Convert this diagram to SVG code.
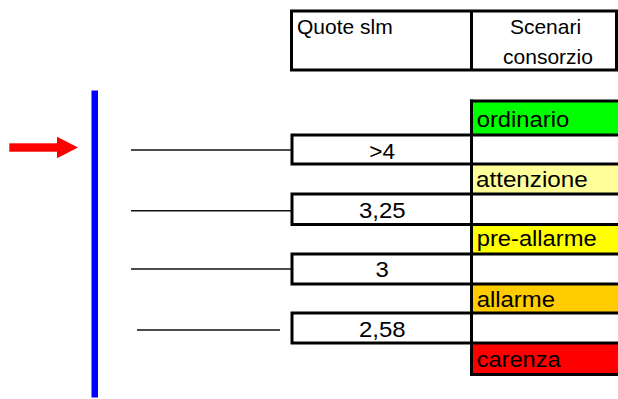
<svg xmlns="http://www.w3.org/2000/svg" width="618" height="399" viewBox="0 0 618 399">
<style>
  .t { font-family: "Liberation Sans", Arial, sans-serif; fill: #000; }
  .h { font-size: 21px; }
  .c { font-size: 21.5px; }
  .b { fill: none; stroke: #000; stroke-width: 3; }
  .conn { stroke: #111; stroke-width: 1.6; }
</style>
<rect width="618" height="399" fill="#fff"/>

<g id="header">
  <rect class="b" x="291.5" y="11" width="325" height="59"/>
  <line class="b" x1="471.5" y1="11" x2="471.5" y2="70"/>
  <text class="t h" x="297" y="33.5">Quote slm</text>
  <text class="t h" x="545.5" y="33.5" text-anchor="middle">Scenari</text>
  <text class="t h" x="548" y="63.5" text-anchor="middle">consorzio</text>
</g>

<g id="scenari">
  <g id="ordinario">
    <rect x="471.5" y="101" width="150" height="34" fill="#00FF00"/>
    <text class="t c" x="476.7" y="127" textLength="92.6" lengthAdjust="spacingAndGlyphs">ordinario</text>
  </g>
  <g id="attenzione">
    <rect x="471.5" y="164" width="150" height="30" fill="#FFFF99"/>
    <text class="t c" x="476" y="186.5" textLength="111.7" lengthAdjust="spacingAndGlyphs">attenzione</text>
  </g>
  <g id="pre-allarme">
    <rect x="471.5" y="224.5" width="150" height="29.5" fill="#FFFF00"/>
    <text class="t c" x="476.7" y="246" textLength="120" lengthAdjust="spacingAndGlyphs">pre-allarme</text>
  </g>
  <g id="allarme">
    <rect x="471.5" y="284" width="150" height="29" fill="#FFCC00"/>
    <text class="t c" x="476.7" y="306.5" textLength="78.3" lengthAdjust="spacingAndGlyphs">allarme</text>
  </g>
  <g id="carenza">
    <rect x="471.5" y="343" width="150" height="31.5" fill="#FF0000"/>
    <text class="t c" x="476.7" y="366.5" textLength="84" lengthAdjust="spacingAndGlyphs">carenza</text>
  </g>
  <g id="grid">
    <line class="b" x1="471.5" y1="99.5" x2="471.5" y2="376"/>
    <line class="b" x1="470" y1="101" x2="622" y2="101"/>
    <line class="b" x1="470" y1="374.5" x2="622" y2="374.5"/>
  </g>
</g>

<g id="quote">
  <g id="q4">
    <rect class="b" x="292" y="135" width="332" height="29"/>
    <text class="t c" x="369.3" y="158.5" textLength="25.7" lengthAdjust="spacingAndGlyphs">&gt;4</text>
  </g>
  <g id="q325">
    <rect class="b" x="292" y="194" width="332" height="30.5"/>
    <text class="t c" x="359" y="218" textLength="46.7" lengthAdjust="spacingAndGlyphs">3,25</text>
  </g>
  <g id="q3">
    <rect class="b" x="292" y="254" width="332" height="30"/>
    <text class="t c" x="375.6" y="277" textLength="13.3" lengthAdjust="spacingAndGlyphs">3</text>
  </g>
  <g id="q258">
    <rect class="b" x="292" y="313" width="332" height="30"/>
    <text class="t c" x="359" y="337" textLength="46.7" lengthAdjust="spacingAndGlyphs">2,58</text>
  </g>
</g>

<g id="livello">
  <rect x="91.5" y="90.5" width="6.5" height="307" fill="#0000FF"/>
</g>

<g id="freccia">
  <rect x="9.3" y="143.3" width="48" height="8.4" fill="#FF0000"/>
  <polygon points="57,136.7 78,147.5 57,158.3" fill="#FF0000"/>
</g>

<g id="connectors">
  <line class="conn" x1="131" y1="150" x2="291" y2="150"/>
  <line class="conn" x1="131" y1="210.7" x2="291" y2="210.7"/>
  <line class="conn" x1="131" y1="269" x2="291" y2="269"/>
  <line class="conn" x1="137" y1="330" x2="280" y2="330"/>
</g>
</svg>
